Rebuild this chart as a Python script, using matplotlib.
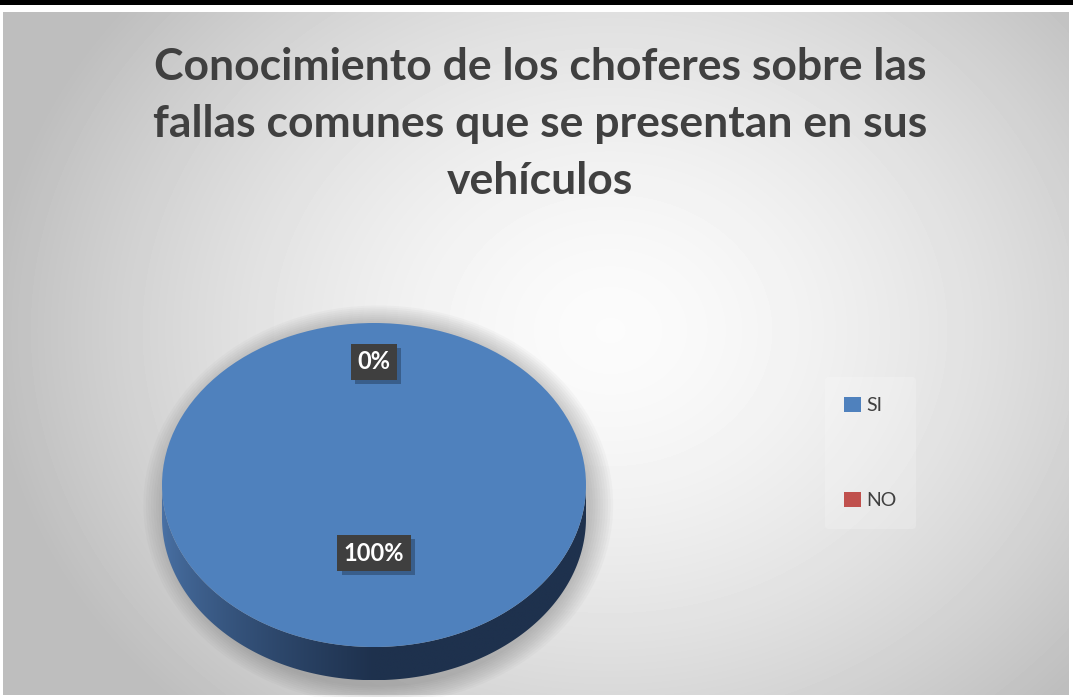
import numpy as np
import matplotlib
matplotlib.use('Agg')
import matplotlib.pyplot as plt
import matplotlib.patheffects as pe
from matplotlib.patches import Polygon, Rectangle, Ellipse

# data
categories = ['SI', 'NO']
values = [100, 0]
pct_labels = ['100%', '0%']
colors = ['#4f81bd', '#c0504d']
title = 'Conocimiento de los choferes sobre las\nfallas comunes que se presentan en sus\nvehículos'

W, H = 1073, 697
fig = plt.figure(figsize=(W / 100, H / 100), dpi=100)
fig.patch.set_facecolor('white')

# background (pixel coords)
bg = fig.add_axes([0, 0, 1, 1])
bg.set_xlim(0, W)
bg.set_ylim(H, 0)
bg.axis('off')
bg.add_patch(Rectangle((0, 0), W, 4.5, color='black', lw=0))
yy, xx = np.mgrid[12:695, 3:1069]
d = np.sqrt(((xx - 610) / 620.0) ** 2 + ((yy - 330) / 520.0) ** 2)
d = np.clip(d, 0, 1)
shade = 0.985 - 0.24 * d ** 1.6
bg.imshow(shade, cmap='gray', vmin=0, vmax=1, extent=[3, 1069, 695, 12],
          interpolation='bilinear', aspect='auto')

# pie axes: top ellipse centre (374, 485), rx 212, ry 162
cx, cy, rx, ry = 374, 485, 212, 162
x0, x1 = -1.25, 1.25
y0, y1 = -1.32, 1.25
ax = fig.add_axes([(cx + x0 * rx) / W, 1 - (cy - y0 * ry) / H,
                   (x1 - x0) * rx / W, (y1 - y0) * ry / H])
ax.patch.set_alpha(0)

depth = 0.205

# soft shadow round the pie
for k in range(10):
    s = 1.0 + 0.012 * k
    ax.add_patch(Ellipse((0.02, -depth * 0.6), 2 * s, 2 * s + depth * 1.2,
                         color='#555555', alpha=0.035, lw=0, zorder=1))

# side of the cylinder with horizontal gradient
t = np.linspace(np.pi, 2 * np.pi, 200)
side = np.concatenate([np.c_[np.cos(t), np.sin(t) - depth],
                       np.c_[np.cos(t[::-1]), np.sin(t[::-1])]])
side_patch = Polygon(side, closed=True, fc='none', ec='none', zorder=2)
ax.add_patch(side_patch)
gx = np.linspace(-1, 1, 300)
g = np.clip((gx + 1) / 1.0, 0, 1) ** 0.7
c_left = np.array([0x4a, 0x72, 0xa6]) / 255.0
c_right = np.array([0x1e, 0x31, 0x4d]) / 255.0
grad = (c_left[None, :] * (1 - g[:, None]) + c_right[None, :] * g[:, None])[None, :, :]
im = ax.imshow(grad, extent=[-1, 1, -1 - depth, 0], aspect='auto', zorder=2,
               interpolation='bilinear')
im.set_clip_path(side_patch)

# top face
wedges, _ = ax.pie(values, colors=colors, startangle=90, counterclock=False,
                   wedgeprops=dict(linewidth=0, zorder=3))
ax.set_aspect('auto')
ax.set_xlim(x0, x1)
ax.set_ylim(y0, y1)
ax.axis('off')

# data labels
label_r = [0.42, 0.76]
for w, lab, r in zip(wedges, pct_labels, label_r):
    mid = np.deg2rad((w.theta1 + w.theta2) / 2)
    lx, ly = r * np.cos(mid), r * np.sin(mid)
    t = ax.text(lx, ly, lab, ha='center', va='center', color='white', fontsize=17,
                fontweight='bold', family='Lato', zorder=5,
                bbox=dict(boxstyle='square,pad=0.27', fc='#3f3f3f', ec='none'))
    t.get_bbox_patch().set_path_effects([
        pe.SimplePatchShadow(offset=(3, -3), shadow_rgbFace='#1a2a40', alpha=0.4),
        pe.Normal()])

# legend
leg = fig.legend(wedges, categories, loc='center left',
                 bbox_to_anchor=(815 / W, 1 - 453 / H), frameon=True,
                 labelspacing=4.0, handlelength=0.85, handleheight=0.85,
                 handletextpad=0.3, borderpad=1.0,
                 prop=dict(family='Lato', size=14))
leg.get_frame().set_facecolor('white')
leg.get_frame().set_alpha(0.2)
leg.get_frame().set_edgecolor('none')
for txt in leg.get_texts():
    txt.set_color('#404040')

# title
fig.text(540 / W, 1 - 124 / H, title, ha='center', va='center',
         fontsize=32, fontweight='bold', family='Lato', color='#404040',
         linespacing=1.5)

fig.savefig('out.png', dpi=100)
